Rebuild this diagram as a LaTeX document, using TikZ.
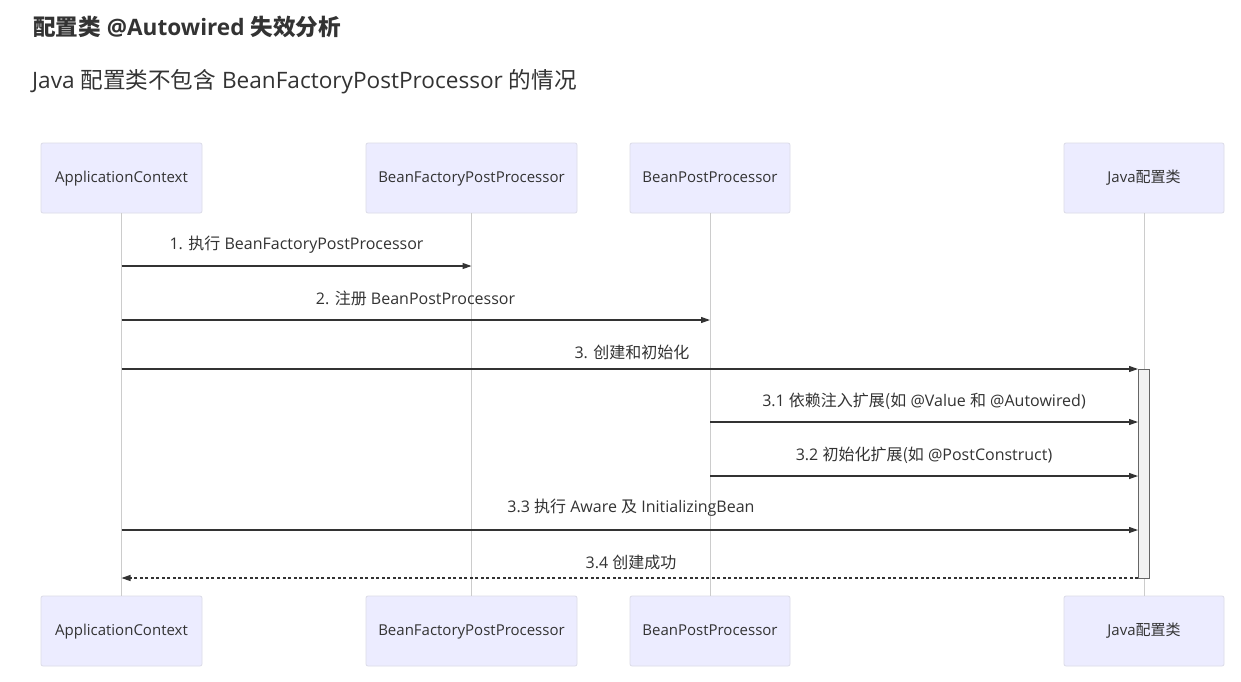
\documentclass[tikz,border=0pt]{standalone}
\usepackage{fontspec}
\setmainfont{Open Sans}
\newfontfamily\cjk{Noto Sans CJK SC}
\newcommand{\zh}[1]{{\cjk #1}}
\usetikzlibrary{arrows.meta}
\definecolor{boxfill}{HTML}{ECECFF}
\definecolor{boxline}{HTML}{DCDCE8}
\definecolor{lifeline}{HTML}{CCCCCC}
\definecolor{msg}{HTML}{333333}
\definecolor{txt}{HTML}{333333}
\tikzset{
  actor/.style={draw=boxline, fill=boxfill, rounded corners=2pt, line width=0.8pt, minimum height=70pt, text=txt, font=\fontsize{15}{17}\selectfont, inner sep=0pt, text height=10.5pt, text depth=1.5pt},
  life/.style={draw=lifeline, line width=0.8pt},
  msgline/.style={draw=msg, line width=1.1pt, -{Triangle[length=9pt,width=6pt]}},
  retline/.style={draw=msg, line width=1.1pt, dash pattern=on 3pt off 2.5pt, -{Triangle[length=9pt,width=6pt]}},
  lbl/.style={text=txt, font=\fontsize{16}{18}\selectfont, inner sep=0pt},
  act/.style={draw=black!60, fill=black!5, line width=0.8pt},
}
\begin{document}
\begin{tikzpicture}[x=1pt,y=-1pt]
\useasboundingbox (0,0) rectangle (1241,681);
\fill[white] (0,0) rectangle (1241,681);
% titles
\node[anchor=west, inner sep=0pt, text=txt, font=\fontsize{22.6}{25}\selectfont\bfseries] (title) at (33,27) {\zh{\bfseries 配置类} @Autowired \zh{\bfseries 失效分析}};
\node[anchor=west, inner sep=0pt, text=txt, font=\fontsize{22.6}{25}\selectfont] (subtitle) at (32,82) {Java \zh{配置类不包含} BeanFactoryPostProcessor \zh{的情况}};
% actors top
\node[actor, minimum width=161pt] (a1) at (121.5,178) {ApplicationContext};
\node[actor, minimum width=211pt] (a2) at (471.5,178) {BeanFactoryPostProcessor};
\node[actor, minimum width=160pt] (a3) at (710,178) {BeanPostProcessor};
\node[actor, minimum width=160pt] (a4) at (1144,178) {Java\zh{配置类}};
% actors bottom
\node[actor, minimum width=161pt] (b1) at (121.5,631) {ApplicationContext};
\node[actor, minimum width=211pt] (b2) at (471.5,631) {BeanFactoryPostProcessor};
\node[actor, minimum width=160pt] (b3) at (710,631) {BeanPostProcessor};
\node[actor, minimum width=160pt] (b4) at (1144,631) {Java\zh{配置类}};
% lifelines
\draw[life] (a1.south) -- (b1.north);
\draw[life] (a2.south) -- (b2.north);
\draw[life] (a3.south) -- (b3.north);
\draw[life] (a4.south) -- (b4.north);
% activation
\draw[act] (1138,369) rectangle (1149,578);
% message coordinates
\coordinate (m1s) at (121.5,266); \coordinate (m1e) at (471.5,266);
\coordinate (m2s) at (121.5,320); \coordinate (m2e) at (710,320);
\coordinate (m3s) at (121.5,369); \coordinate (m3e) at (1138,369);
\coordinate (m31s) at (710,422); \coordinate (m31e) at (1138,422);
\coordinate (m32s) at (710,476); \coordinate (m32e) at (1138,476);
\coordinate (m33s) at (121.5,530); \coordinate (m33e) at (1138,530);
\coordinate (m34s) at (1138,578); \coordinate (m34e) at (121.5,578);
\draw[msgline] (m1s) -- (m1e);
\draw[msgline] (m2s) -- (m2e);
\draw[msgline] (m3s) -- (m3e);
\draw[msgline] (m31s) -- (m31e);
\draw[msgline] (m32s) -- (m32e);
\draw[msgline] (m33s) -- (m33e);
\draw[retline] (m34s) -- (m34e);
% labels
\node[lbl] (l1) at (296.5,245) {1. \zh{执行} BeanFactoryPostProcessor};
\node[lbl] (l2) at (415.5,298) {2. \zh{注册} BeanPostProcessor};
\node[lbl] (l3) at (632,352) {3. \zh{创建和初始化}};
\node[lbl] (l31) at (924,401) {3.1 \zh{依赖注入扩展(如} @Value \zh{和} @Autowired)};
\node[lbl] (l32) at (924,455) {3.2 \zh{初始化扩展(如} @PostConstruct)};
\node[lbl] (l33) at (631,508) {3.3 \zh{执行} Aware \zh{及} InitializingBean};
\node[lbl] (l34) at (631,562) {3.4 \zh{创建成功}};
\end{tikzpicture}
\end{document}
